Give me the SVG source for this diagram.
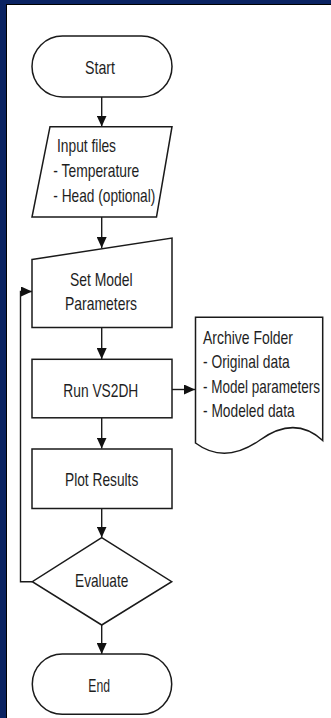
<svg xmlns="http://www.w3.org/2000/svg" width="331" height="718" viewBox="0 0 331 718">
<style>
.shape{fill:#fff;stroke:#1a1a1a;stroke-width:1.5}
.conn{fill:none;stroke:#1a1a1a;stroke-width:1.4}
.t{font-family:"Liberation Sans",Arial,sans-serif;font-size:18.5px;fill:#1e1e1e}
</style>
<defs>
<marker id="arr" markerUnits="userSpaceOnUse" markerWidth="11" markerHeight="10" refX="11" refY="5" orient="auto">
<path d="M0,0 L11,5 L0,10 Z" fill="#111"/>
</marker>
</defs>
<rect x="0" y="0" width="331" height="718" fill="#0a2362"/>
<rect x="6" y="4" width="325" height="714" fill="#000"/>
<rect x="7" y="5" width="324" height="713" fill="#fff"/>

<g id="connectors">
<line class="conn" x1="101.7" y1="97" x2="101.7" y2="126.5" marker-end="url(#arr)"/>
<line class="conn" x1="101.7" y1="217" x2="101.7" y2="248" marker-end="url(#arr)"/>
<line class="conn" x1="101.7" y1="328" x2="101.7" y2="359" marker-end="url(#arr)"/>
<line class="conn" x1="172" y1="389.5" x2="195" y2="389.5" marker-end="url(#arr)"/>
<line class="conn" x1="101.7" y1="418" x2="101.7" y2="448.5" marker-end="url(#arr)"/>
<line class="conn" x1="101.7" y1="509" x2="101.7" y2="537.5" marker-end="url(#arr)"/>
<line class="conn" x1="101.7" y1="625" x2="101.7" y2="654" marker-end="url(#arr)"/>
<polyline class="conn" points="32.3,581.7 20.5,581.7 20.5,291.5 32,291.5" marker-end="url(#arr)"/>
</g>

<g id="start">
<rect class="shape" x="32" y="36" width="140" height="61" rx="30.5" ry="30.5"/>
<text class="t" transform="translate(85,74) scale(0.75,1)" textLength="40" lengthAdjust="spacingAndGlyphs">Start</text>
</g>

<g id="input">
<polygon class="shape" points="50,126.7 172,126.7 156.5,217 32,217"/>
<text class="t" transform="translate(57,152) scale(0.75,1)" textLength="78.7" lengthAdjust="spacingAndGlyphs">Input files</text>
<text class="t" transform="translate(53.3,176.7) scale(0.75,1)" textLength="114.7" lengthAdjust="spacingAndGlyphs">- Temperature</text>
<text class="t" transform="translate(53.3,201.5) scale(0.75,1)" textLength="136" lengthAdjust="spacingAndGlyphs">- Head (optional)</text>
</g>

<g id="setmodel">
<polygon class="shape" points="32,259.5 172,238 172,327.5 32,327.5"/>
<text class="t" transform="translate(70,286) scale(0.75,1)" textLength="83.6" lengthAdjust="spacingAndGlyphs">Set Model</text>
<text class="t" transform="translate(65,310) scale(0.75,1)" textLength="96" lengthAdjust="spacingAndGlyphs">Parameters</text>
</g>

<g id="run">
<rect class="shape" x="32" y="359.3" width="140" height="58.5"/>
<text class="t" transform="translate(63.3,396.7) scale(0.75,1)" textLength="100" lengthAdjust="spacingAndGlyphs">Run VS2DH</text>
</g>

<g id="archive">
<path class="shape" d="M195.5,317.3 H322.7 V440.5 Q 295,415 260,440 Q 225,465 195.5,443 Z"/>
<text class="t" transform="translate(203,344) scale(0.75,1)" textLength="120" lengthAdjust="spacingAndGlyphs">Archive Folder</text>
<text class="t" transform="translate(203,368.3) scale(0.75,1)" textLength="115.6" lengthAdjust="spacingAndGlyphs">- Original data</text>
<text class="t" transform="translate(203,392.6) scale(0.75,1)" textLength="156" lengthAdjust="spacingAndGlyphs">- Model parameters</text>
<text class="t" transform="translate(203,417) scale(0.75,1)" textLength="122.3" lengthAdjust="spacingAndGlyphs">- Modeled data</text>
</g>

<g id="plot">
<rect class="shape" x="32" y="449" width="140" height="59.5"/>
<text class="t" transform="translate(65,486) scale(0.75,1)" textLength="97.7" lengthAdjust="spacingAndGlyphs">Plot Results</text>
</g>

<g id="evaluate">
<polygon class="shape" points="101.7,537.7 171.7,581.7 101.7,625 32.3,581.7"/>
<text class="t" transform="translate(75,586.7) scale(0.75,1)" textLength="71.1" lengthAdjust="spacingAndGlyphs">Evaluate</text>
</g>

<g id="end">
<rect class="shape" x="32.3" y="654" width="139.4" height="60.3" rx="30" ry="30"/>
<text class="t" transform="translate(88.3,691.7) scale(0.75,1)" textLength="28.9" lengthAdjust="spacingAndGlyphs">End</text>
</g>
</svg>
